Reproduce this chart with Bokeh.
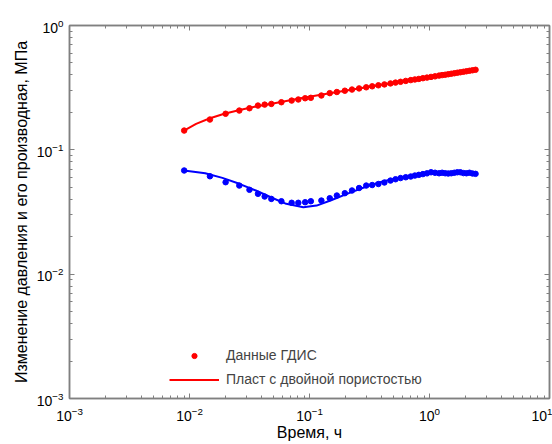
from bokeh.plotting import figure
from bokeh.models import LogAxis, Legend, LegendItem, Range1d, FixedTicker
from bokeh.embed import file_html
from bokeh.resources import INLINE

# ГДИС data: pressure change (red) and derivative (blue)
t_data = [0.00903, 0.0148, 0.0200, 0.0260, 0.0316, 0.0372, 0.0423, 0.0481, 0.0583, 0.0710,
          0.0807, 0.0920, 0.1026, 0.1256, 0.1475, 0.169, 0.197, 0.226, 0.259, 0.297,
          0.333, 0.375, 0.421, 0.473, 0.521, 0.574, 0.634, 0.698, 0.755, 0.815,
          0.881, 0.953, 1.03, 1.112, 1.202, 1.274, 1.351, 1.432, 1.518, 1.61,
          1.706, 1.808, 1.918, 2.032, 2.154, 2.283, 2.42]
dp_data = [0.1429, 0.1753, 0.195, 0.207, 0.216, 0.227, 0.231, 0.234, 0.2415, 0.249,
           0.254, 0.260, 0.262, 0.2735, 0.2858, 0.2918, 0.2989, 0.3054, 0.3119, 0.3184,
           0.3243, 0.3304, 0.3358, 0.342, 0.3473, 0.3525, 0.3583, 0.3638, 0.368, 0.3718,
           0.3769, 0.381, 0.3859, 0.39, 0.3954, 0.399, 0.4018, 0.4055, 0.4093, 0.413,
           0.4169, 0.4207, 0.4245, 0.4285, 0.4325, 0.4365, 0.4403]
der_data = [0.0682, 0.0613, 0.0549, 0.0516, 0.0477, 0.0443, 0.0421, 0.0403, 0.0386, 0.0375,
            0.0375, 0.0379, 0.0386, 0.0391, 0.0408, 0.0429, 0.0448, 0.0471, 0.0493, 0.0516,
            0.0521, 0.0531, 0.0546, 0.0566, 0.058, 0.0593, 0.0602, 0.061, 0.0621, 0.0629,
            0.0638, 0.0647, 0.066, 0.0654, 0.0648, 0.0654, 0.0648, 0.0645, 0.0648, 0.0654,
            0.066, 0.066, 0.065, 0.0648, 0.0654, 0.0645, 0.0641]

# Dual-porosity model
t_model_dp = [0.009, 0.01135, 0.01462, 0.01918, 0.02616, 0.0357, 0.0497, 0.0889, 0.1475,
              0.621, 2.42]
dp_model = [0.143, 0.1616, 0.1786, 0.1941, 0.209, 0.2227, 0.2358, 0.262, 0.2847,
            0.358, 0.4403]
t_model_der = [0.009, 0.01352, 0.0188, 0.026, 0.0357, 0.0497, 0.064, 0.0889, 0.1146, 0.1496,
               0.213, 0.315, 0.421, 0.621, 1.03, 1.64, 2.42]
der_model = [0.0682, 0.0648, 0.0595, 0.0533, 0.0471, 0.0408, 0.0368, 0.0345, 0.0356, 0.0391,
             0.0449, 0.0516, 0.0561, 0.0604, 0.065, 0.0657, 0.065]

x_ticks = [1e-3, 1e-2, 1e-1, 1e0, 1e1]
y_ticks = [1e-3, 1e-2, 1e-1, 1e0]

FONT = "Liberation Sans"
GRAY = "#808080"

x_minor = [m * 10.0 ** e for e in range(-3, 1) for m in range(2, 10)]
y_minor = [m * 10.0 ** e for e in range(-3, 0) for m in range(2, 10)]
x_ticker = FixedTicker(ticks=x_ticks, minor_ticks=x_minor)
y_ticker = FixedTicker(ticks=y_ticks, minor_ticks=y_minor)

p = figure(width=552, height=444, x_axis_type="log", y_axis_type="log",
           x_range=Range1d(1e-3, 1e1), y_range=Range1d(1e-3, 1e0),
           output_backend="svg", toolbar_location=None,
           min_border_left=69, min_border_right=3, min_border_top=25, min_border_bottom=46)
p.xgrid.visible = False
p.ygrid.visible = False
p.outline_line_color = GRAY
p.outline_line_width = 1.5
p.background_fill_color = "white"
p.border_fill_color = "white"

r_line = p.line(t_model_dp, dp_model, line_color="red", line_width=2)
p.line(t_model_der, der_model, line_color="blue", line_width=2)
r_dot = p.scatter(t_data, dp_data, size=5.5, color="red")
p.scatter(t_data, der_data, size=5.5, color="blue")

def style_axis(ax, show_labels=True):
    ax.axis_line_color = GRAY
    ax.axis_line_width = 1.5
    ax.major_tick_line_color = GRAY
    ax.minor_tick_line_color = GRAY
    ax.major_tick_line_width = 1
    ax.minor_tick_line_width = 1
    ax.major_tick_in = 5
    ax.major_tick_out = 0
    ax.minor_tick_in = 3
    ax.minor_tick_out = 0
    ax.major_label_text_font = FONT
    ax.major_label_text_font_size = "14px"
    ax.major_label_text_color = "black"
    if not show_labels:
        ax.major_label_text_alpha = 0
        ax.major_label_text_font_size = "0px"
        ax.major_label_standoff = 0

p.xaxis[0].ticker = x_ticker
p.yaxis[0].ticker = y_ticker
style_axis(p.xaxis[0])
style_axis(p.yaxis[0])
p.xaxis.axis_label = "Время, ч"
p.yaxis.axis_label = "Изменение давления и его производная, МПа"
for ax in (p.xaxis[0], p.yaxis[0]):
    ax.axis_label_text_font = FONT
    ax.axis_label_text_font_style = "normal"
    ax.axis_label_text_font_size = "16px"
    ax.axis_label_text_color = "black"
p.xaxis.major_label_standoff = 8
p.xaxis.axis_label_standoff = 0
p.yaxis.major_label_standoff = 6
p.yaxis.axis_label_standoff = 4

top = LogAxis(ticker=FixedTicker(ticks=x_ticks, minor_ticks=x_minor))
style_axis(top, False)
p.add_layout(top, "above")
right = LogAxis(ticker=FixedTicker(ticks=y_ticks, minor_ticks=y_minor))
style_axis(right, False)
p.add_layout(right, "right")

legend = Legend(items=[LegendItem(label="Данные ГДИС", renderers=[r_dot]),
                       LegendItem(label="Пласт с двойной пористостью", renderers=[r_line])],
                location=(100, 9), border_line_color=None, background_fill_alpha=0,
                label_text_font=FONT, label_text_font_size="14px",
                glyph_width=50, glyph_height=13, label_height=20, label_standoff=7,
                spacing=4, padding=0, margin=0)
p.add_layout(legend, "center")

open("out.html", "w").write(file_html(p, INLINE))
